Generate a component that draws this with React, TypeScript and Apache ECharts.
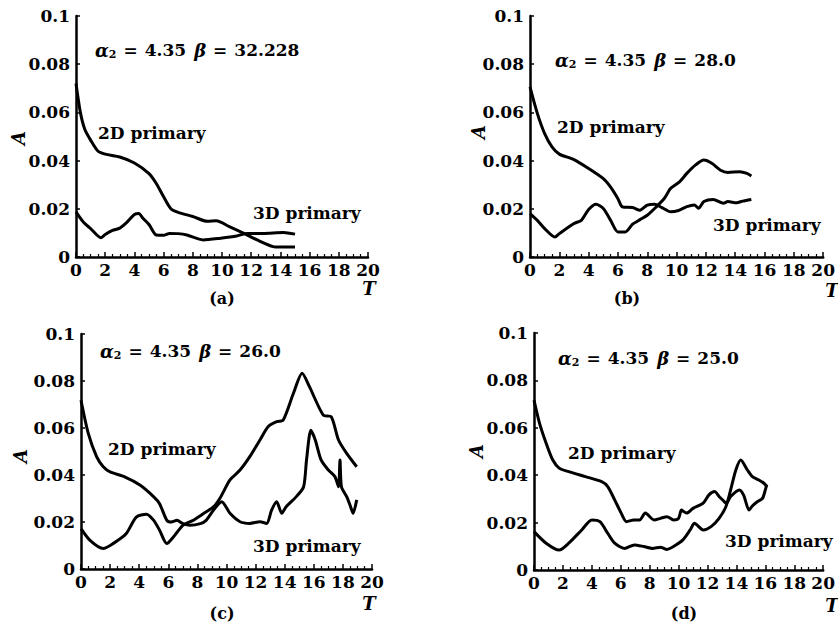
import React, { useEffect, useRef } from "react";
import * as echarts from "echarts";

const xTicks = [0, 2, 4, 6, 8, 10, 12, 14, 16, 18, 20];
const yTicks = [0, 0.02, 0.04, 0.06, 0.08, 0.1];

const panelNames = ["(a)", "(b)", "(c)", "(d)"];
const betaValues = ["32.228", "28.0", "26.0", "25.0"];
const alphaValue = "4.35";

const a2D: [number, number][] = [[0,0.072],[0.3,0.06],[0.6,0.053],[1,0.0485],[1.5,0.044],[2,0.0427],[3,0.0415],[4,0.039],[5,0.0346],[5.5,0.0305],[6,0.025],[6.5,0.02],[7,0.0185],[8,0.0168],[9,0.0148],[9.6,0.015],[10.5,0.0126],[11.5,0.0098],[12.4,0.0071],[13.5,0.0043],[14,0.0041],[15,0.0042]];
const a3D: [number, number][] = [[0,0.0187],[0.5,0.0145],[1,0.0118],[1.7,0.008],[2,0.0093],[2.5,0.011],[3,0.012],[3.5,0.0145],[4,0.0176],[4.3,0.018],[4.6,0.016],[5,0.0135],[5.5,0.0091],[6,0.009],[6.4,0.0098],[7,0.0097],[7.6,0.0091],[8.7,0.0071],[9.9,0.0078],[11,0.0087],[11.7,0.0098],[12.8,0.0098],[14.2,0.0102],[15,0.0095]];

const b2D: [number, number][] = [[0,0.0706],[0.5,0.0596],[1,0.0512],[1.5,0.0457],[2,0.0427],[3,0.0404],[4,0.0367],[5,0.0325],[5.5,0.029],[6,0.0242],[6.3,0.0208],[7,0.0205],[7.5,0.0194],[8,0.0215],[8.5,0.0219],[9,0.0205],[9.6,0.0188],[10.07,0.0192],[10.7,0.0209],[11.2,0.0216],[11.5,0.0202],[11.86,0.023],[12.5,0.0239],[13.2,0.0223],[13.5,0.023],[14.1,0.0225],[14.5,0.0232],[15.1,0.0239]];
const b3D: [number, number][] = [[0,0.018],[0.5,0.0152],[1,0.0118],[1.7,0.0083],[2,0.0097],[3,0.0139],[3.5,0.0152],[4,0.0197],[4.5,0.0219],[5,0.0201],[5.5,0.0152],[6,0.0104],[6.5,0.0104],[7,0.0136],[7.5,0.0155],[8,0.0173],[8.5,0.0201],[9.17,0.0244],[9.6,0.0285],[10.2,0.0312],[10.7,0.0347],[11.3,0.0382],[11.86,0.0402],[12.4,0.0389],[13,0.036],[13.5,0.0351],[14.3,0.0354],[14.8,0.0347],[15.1,0.0336]];

const c2D: [number, number][] = [[0,0.0718],[0.5,0.0577],[1.08,0.0477],[1.53,0.0435],[2,0.0413],[3,0.0392],[4.05,0.0357],[5,0.0307],[5.4,0.0278],[5.9,0.0207],[6.2,0.02],[6.6,0.0207],[7,0.0193],[7.5,0.0186],[8.2,0.0193],[8.6,0.0207],[9.1,0.025],[9.67,0.0286],[10.24,0.0237],[10.93,0.0201],[11.6,0.0194],[12.3,0.0201],[12.76,0.0194],[13.1,0.0251],[13.45,0.0286],[13.8,0.0237],[14.1,0.0265],[14.8,0.0308],[15.3,0.035],[15.5,0.0464],[15.8,0.059],[16.1,0.0549],[16.5,0.0464],[17,0.0421],[17.45,0.0393],[17.7,0.035],[17.8,0.0464],[17.9,0.035],[18.26,0.0308],[18.5,0.027],[18.7,0.0237],[18.95,0.0294]];
const c3D: [number, number][] = [[0,0.0172],[0.62,0.0122],[1.53,0.0087],[2.2,0.0108],[3.1,0.015],[3.8,0.0221],[4.5,0.0233],[5,0.0207],[5.4,0.0165],[5.9,0.0108],[6.35,0.0136],[7,0.0186],[7.7,0.0207],[8.4,0.0235],[9.1,0.0264],[9.55,0.0301],[10.24,0.0379],[10.93,0.0421],[11.6,0.0478],[12.3,0.0549],[12.87,0.0606],[13.45,0.0627],[13.9,0.0634],[14.6,0.0748],[15.2,0.0833],[15.7,0.0776],[16.65,0.0655],[17.2,0.0648],[17.7,0.0549],[18.26,0.0492],[18.95,0.0435]];

const d2D: [number, number][] = [[0,0.0717],[0.38,0.062],[0.84,0.0535],[1.29,0.0465],[1.74,0.043],[2.4,0.0415],[3.55,0.0394],[4.68,0.0373],[5.1,0.0352],[5.58,0.0296],[6.03,0.024],[6.4,0.0204],[6.9,0.0211],[7.3,0.0211],[7.7,0.024],[8.3,0.0211],[8.75,0.0218],[9.2,0.0225],[9.65,0.0211],[10,0.0218],[10.2,0.0253],[10.55,0.024],[11,0.026],[11.7,0.0282],[12.1,0.0317],[12.5,0.0331],[12.8,0.031],[13.06,0.0295],[13.3,0.0281],[13.6,0.031],[14.2,0.0338],[14.5,0.0316],[14.87,0.0253],[15.1,0.027],[15.44,0.0288],[15.8,0.0302],[16,0.0338],[16.1,0.036]];
const d3D: [number, number][] = [[0,0.0162],[0.84,0.0113],[1.74,0.0084],[2.4,0.0113],[3.3,0.0169],[4,0.0211],[4.56,0.0204],[5.1,0.0155],[5.58,0.0113],[6.26,0.0091],[6.94,0.0106],[7.6,0.0099],[8.2,0.0091],[8.75,0.0096],[9.2,0.0087],[9.65,0.0099],[10.3,0.0127],[10.8,0.0169],[11.1,0.0197],[11.7,0.0169],[12.25,0.0183],[12.8,0.0218],[13.27,0.0267],[13.6,0.0338],[13.96,0.0422],[14.3,0.0464],[14.76,0.0422],[15.1,0.0394],[15.55,0.038],[15.9,0.0366],[16.1,0.0352]];

const seriesData = [
  [a2D, a3D],
  [b2D, b3D],
  [c2D, c3D],
  [d2D, d3D],
];

const SERIF = '"DejaVu Serif", "Liberation Serif", serif';

const grids = [
  { left: 76, top: 16, width: 292, height: 241 },
  { left: 530, top: 16, width: 298, height: 241 },
  { left: 81, top: 334, width: 291, height: 235 },
  { left: 534, top: 333, width: 295, height: 237 },
];

// text layout per panel
const layout = [
  { title: [95, 50], l2: [98, 133], l3: [253, 213], name: [222, 298], T: [369, 288], A: [18, 138] },
  { title: [555, 60], l2: [557, 127], l3: [713, 225], name: [627, 298], T: [832, 290], A: [478, 132] },
  { title: [100, 351], l2: [108, 449], l3: [253, 546], name: [222, 613], T: [369, 603], A: [20, 456] },
  { title: [558, 358], l2: [568, 453], l3: [725, 541], name: [684, 613], T: [832, 605], A: [476, 451] },
];

export default function App() {
  const ref = useRef<HTMLDivElement>(null);
  useEffect(() => {
    if (!ref.current) return;
    const chart = echarts.init(ref.current, null, { renderer: "svg" });

    const xAxis = grids.map((_, i) => ({
      type: "value",
      gridIndex: i,
      min: xTicks[0],
      max: xTicks[xTicks.length - 1],
      interval: xTicks[1] - xTicks[0],
      axisLine: { show: true, lineStyle: { color: "#000", width: 2.5 } },
      axisTick: { show: true, inside: true, length: 5, lineStyle: { color: "#000", width: 1.5 } },
      minorTick: { show: true, splitNumber: 4, length: 3, lineStyle: { color: "#000", width: 1.2 } },
      splitLine: { show: false },
      axisLabel: {
        color: "#000",
        fontFamily: SERIF,
        fontWeight: "bold",
        fontSize: 17,
        margin: 4,
        showMaxLabel: true,
      },
    }));

    const yAxis = grids.map((_, i) => ({
      type: "value",
      gridIndex: i,
      min: yTicks[0],
      max: yTicks[yTicks.length - 1],
      interval: yTicks[1] - yTicks[0],
      axisLine: { show: true, lineStyle: { color: "#000", width: 2.5 } },
      axisTick: { show: true, inside: true, length: 4, lineStyle: { color: "#000", width: 1.5 } },
      splitLine: { show: false },
      axisLabel: {
        color: "#000",
        fontFamily: SERIF,
        fontWeight: "bold",
        fontSize: 17,
        margin: 6,
        formatter: (v: number) => (v === 0 ? "0" : String(+v.toFixed(2))),
      },
    }));

    const series: any[] = [];
    seriesData.forEach((pair, i) => {
      pair.forEach((d, k) => {
        series.push({
          type: "line",
          name: `${panelNames[i]} ${k === 0 ? "2D" : "3D"} primary`,
          xAxisIndex: i,
          yAxisIndex: i,
          data: d,
          showSymbol: false,
          smooth: 0.25,
          lineStyle: { color: "#000", width: 3 },
          z: 3,
        });
      });
    });

    const graphic: any[] = [];
    layout.forEach((L, i) => {
      graphic.push({
        type: "text",
        x: L.title[0],
        y: L.title[1],
        style: {
          text: `{g|α}{s|2}{e|=}{n|${alphaValue}}{g2|β}{e|=}{n|${betaValues[i]}}`,
          textVerticalAlign: "middle",
          textAlign: "left",
          fill: "#000",
          rich: {
            g: { fontFamily: SERIF, fontStyle: "italic", fontWeight: "bold", fontSize: 18, fill: "#000" },
            g2: { fontFamily: SERIF, fontStyle: "italic", fontWeight: "bold", fontSize: 18, fill: "#000", padding: [0, 0, 0, 8] },
            s: { fontFamily: SERIF, fontWeight: "bold", fontSize: 11, fill: "#000", padding: [8, 0, 0, 0] },
            e: { fontFamily: SERIF, fontWeight: "bold", fontSize: 17, fill: "#000", padding: [0, 7, 0, 7] },
            n: { fontFamily: SERIF, fontWeight: "bold", fontSize: 17, fill: "#000" },
          },
        },
      });
      const labelFont = `bold 17px ${SERIF}`;
      graphic.push({
        type: "text", x: L.l2[0], y: L.l2[1],
        style: { text: "2D primary", font: labelFont, fill: "#000", textVerticalAlign: "middle" },
      });
      graphic.push({
        type: "text", x: L.l3[0], y: L.l3[1],
        style: { text: "3D primary", font: labelFont, fill: "#000", textVerticalAlign: "middle" },
      });
      graphic.push({
        type: "text", x: L.name[0], y: L.name[1],
        style: { text: panelNames[i], font: `bold 16px ${SERIF}`, fill: "#000", textAlign: "center", textVerticalAlign: "middle" },
      });
      graphic.push({
        type: "text", x: L.T[0], y: L.T[1],
        style: { text: "T", font: `italic bold 18px ${SERIF}`, fill: "#000", textAlign: "center", textVerticalAlign: "middle" },
      });
      graphic.push({
        type: "text", x: L.A[0], y: L.A[1], rotation: Math.PI / 2,
        style: { text: "A", font: `italic bold 18px ${SERIF}`, fill: "#000", textAlign: "center", textVerticalAlign: "middle" },
      });
    });

    chart.setOption({
      animation: false,
      backgroundColor: "#fff",
      grid: grids.map((g) => ({ ...g, containLabel: false })),
      xAxis,
      yAxis,
      series,
      graphic,
    });
    return () => chart.dispose();
  }, []);

  return (
    <div
      ref={ref}
      style={{ position: "fixed", left: 0, top: 0, width: 838, height: 628 }}
    />
  );
}
